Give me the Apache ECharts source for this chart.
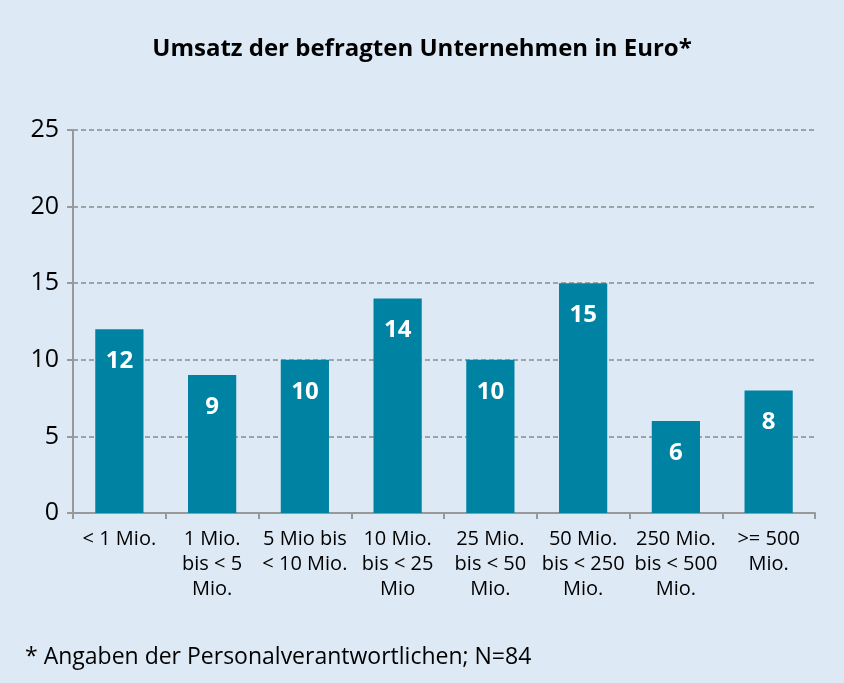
<!DOCTYPE html>
<html><head><meta charset="utf-8">
<script src="https://cdn.jsdelivr.net/npm/echarts@6/dist/echarts.min.js"></script>
<style>html,body{margin:0;padding:0;background:#fff}#c{width:844px;height:683px}</style>
</head><body><div id="c"></div>
<script>
const title = "Umsatz der befragten Unternehmen in Euro*";
const footnote = "* Angaben der Personalverantwortlichen; N=84";
const categories = ["< 1 Mio.", "1 Mio.\nbis < 5\nMio.", "5 Mio bis\n< 10 Mio.", "10 Mio.\nbis < 25\nMio", "25 Mio.\nbis < 50\nMio.", "50 Mio.\nbis < 250\nMio.", "250 Mio.\nbis < 500\nMio.", ">= 500\nMio."];
const values = [12, 9, 10, 14, 10, 15, 6, 8];
const yTicks = [0, 5, 10, 15, 20, 25];

const chart = echarts.init(document.getElementById('c'), null, {renderer: 'canvas'});
const font = '"Open Sans", "Noto Sans", sans-serif';
chart.setOption({
  backgroundColor: '#dde9f5',
  animation: false,
  title: [{
    text: title, left: 'center', top: 32,
    textStyle: {fontFamily: font, fontWeight: 'bold', fontSize: 24, color: '#000'}
  }, {
    text: footnote, left: 20, top: 641,
    textStyle: {fontFamily: font, fontWeight: 'normal', fontSize: 23, color: '#000'}
  }],
  grid: {left: 73, right: 29, top: 130, bottom: 170, containLabel: false},
  xAxis: {
    type: 'category', data: categories,
    axisLine: {lineStyle: {color: '#999', width: 2}},
    axisTick: {show: true, length: 6, lineStyle: {color: '#999', width: 2}},
    axisLabel: {interval: 0, fontFamily: font, fontSize: 20, color: '#000', lineHeight: 25, margin: 14}
  },
  yAxis: {
    type: 'value', min: yTicks[0], max: yTicks[yTicks.length - 1], interval: 5,
    axisLine: {show: true, lineStyle: {color: '#999', width: 2}},
    axisTick: {show: true, length: 6, lineStyle: {color: '#999', width: 2}},
    axisLabel: {fontFamily: font, fontSize: 25, color: '#000', margin: 14},
    splitLine: {lineStyle: {color: '#8c8c8c', type: [5, 3], width: 1.5}}
  },
  series: [{
    type: 'bar', data: values, barWidth: '52%',
    itemStyle: {color: '#0083a3'},
    label: {show: true, position: 'insideTop', distance: 20, color: '#fff', fontFamily: font, fontWeight: 'bold', fontSize: 24}
  }]
});
</script></body></html>
